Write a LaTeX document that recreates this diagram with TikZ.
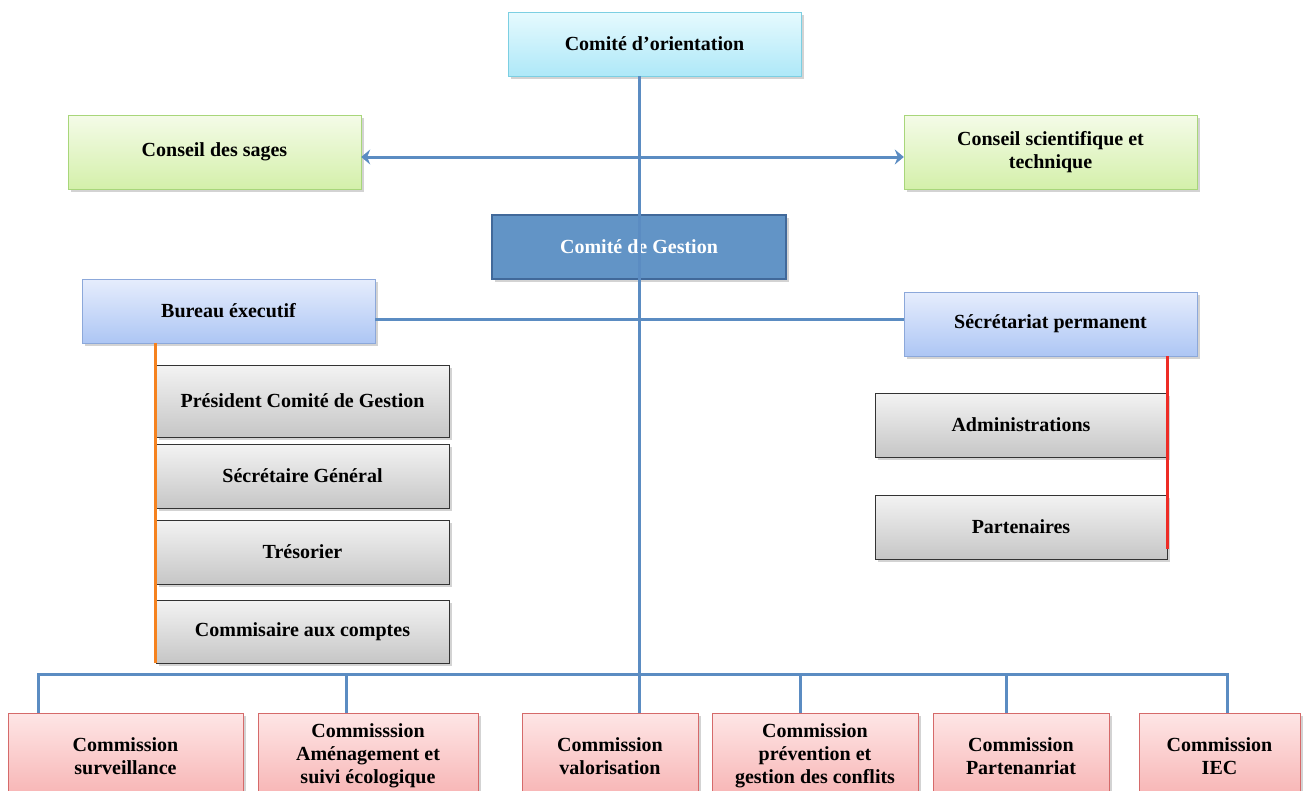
\documentclass[tikz,border=0pt]{standalone}
\usepackage{fontspec}
\setmainfont{Liberation Serif}
\usepackage{xcolor}
\definecolor{ligne}{HTML}{5B8CC2}
\definecolor{cyanh}{HTML}{E6FAFE}
\definecolor{cyanb}{HTML}{AEE8F8}
\definecolor{cyanc}{HTML}{7CCFE2}
\definecolor{verth}{HTML}{F4FBE8}
\definecolor{vertb}{HTML}{D4F0AA}
\definecolor{vertc}{HTML}{A8D67A}
\definecolor{bleuh}{HTML}{E6EDFD}
\definecolor{bleub}{HTML}{ADC6F4}
\definecolor{bleuc}{HTML}{8CA8DA}
\definecolor{gestfond}{HTML}{6294C6}
\definecolor{gestbord}{HTML}{41699A}
\definecolor{grish}{HTML}{F3F3F3}
\definecolor{grisb}{HTML}{C6C6C6}
\definecolor{roseh}{HTML}{FEE6E6}
\definecolor{roseb}{HTML}{F7B3B3}
\definecolor{rosec}{HTML}{D56A6A}
\definecolor{orangebe}{HTML}{F5821F}
\definecolor{rougesp}{HTML}{EE2C26}
\usepackage{tikz}
\usetikzlibrary{arrows.meta,shadows,calc}

\begin{document}
\begin{tikzpicture}[x=1pt,y=-1pt,font=\fontsize{20}{23}\selectfont\bfseries,
  boite/.style={inner sep=0pt,align=center,drop shadow={opacity=0.35,shadow xshift=2.5pt,shadow yshift=-2.5pt}},
  orient/.style={boite,draw=cyanc,top color=cyanh,bottom color=cyanb},
  conseil/.style={boite,draw=vertc,top color=verth,bottom color=vertb},
  bureau/.style={boite,draw=bleuc,top color=bleuh,bottom color=bleub},
  membre/.style={boite,draw=black!80,top color=grish,bottom color=grisb},
  commis/.style={boite,draw=rosec,top color=roseh,bottom color=roseb},
  trait/.style={ligne,line width=3pt}]
  \useasboundingbox (0,0) rectangle (1309,790);
  \clip (0,0) rectangle (1309,790);
  % niveau haut
  \node[orient,minimum width=293pt,minimum height=64pt] (orient) at (654.5,44) {Comité d’orientation};
  \node[conseil,minimum width=293pt,minimum height=74pt] (sages) at (214.5,152) {Conseil des sages};
  \node[conseil,minimum width=293pt,minimum height=74pt] (scient) at (1050.5,152) {Conseil scientifique et\\technique};
  \node[boite,draw=gestbord,fill=gestfond,text=white,minimum width=294pt,minimum height=64pt,line width=1.2pt] (gestion) at (639,247) {Comité de Gestion};
  \node[bureau,minimum width=293pt,minimum height=64pt] (bureau) at (228.5,311) {Bureau éxecutif};
  \node[bureau,minimum width=293pt,minimum height=64pt] (secret) at (1050.5,324) {Sécrétariat permanent};
  % membres du bureau
  \def\membre#1#2#3#4{\node[membre,minimum width=293pt,minimum height=#3pt] (#1) at (302.5,#2) {#4};}
  \membre{pres}{401}{72}{Président Comité de Gestion}
  \membre{secg}{476}{64}{Sécrétaire Général}
  \membre{treso}{552}{64}{Trésorier}
  \membre{comptes}{631.5}{63}{Commisaire aux comptes}
  % secretariat
  \node[membre,minimum width=292pt,minimum height=64pt] (admin) at (1021,425) {Administrations};
  \node[membre,minimum width=292pt,minimum height=64pt] (partn) at (1021,527) {Partenaires};
  % commissions : nom, centre, largeur, texte
  \def\commis#1#2#3#4{\node[commis,minimum width=#3pt,minimum height=86pt] (#1) at (#2,756) {#4};}
  \commis{surv}{125.5}{235}{Commission\\surveillance}
  \commis{amen}{368}{220}{Commisssion\\Aménagement et\\suivi écologique}
  \commis{valor}{610}{176}{Commission\\valorisation}
  \commis{prev}{815}{206}{Commission\\prévention et\\gestion des conflits}
  \commis{parten}{1021}{176}{Commission\\Partenanriat}
  \commis{iec}{1219.5}{161}{Commission\\IEC}
  % liaisons
  \draw[trait,{Stealth[length=9pt,width=15pt,inset=3pt]}-{Stealth[length=9pt,width=15pt,inset=3pt]}]
     ([yshift=-5pt]sages.east) -- ([yshift=-5pt]scient.west);
  \draw[trait] ([yshift=-8pt]bureau.east) -- ([yshift=5pt]secret.west);
  \draw[trait] (orient.south -| gestion.center) -- (valor.north -| gestion.center);
  \coordinate (barre) at (0,674);
  \draw[trait] (surv.north -| 38,0) -- (barre -| 38,0) -- (barre -| 1227,0) -- (iec.north -| 1227,0);
  \foreach \n/\x in {amen/346,prev/800,parten/1006}
     \draw[trait] (barre -| \x,0) -- (\n.north -| \x,0);
  \draw[orangebe,line width=3pt] (pres.west |- bureau.south) -- (comptes.south west);
  \draw[rougesp,line width=3pt] (admin.east |- secret.south) -- ([yshift=10pt]partn.south east);
\end{tikzpicture}
\end{document}
